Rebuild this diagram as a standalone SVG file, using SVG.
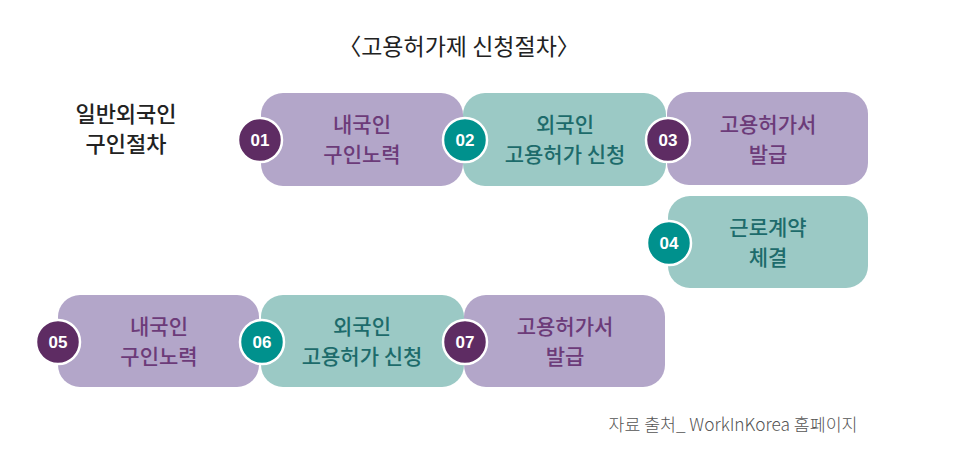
<svg xmlns="http://www.w3.org/2000/svg" width="966" height="459" viewBox="0 0 966 459">
<style>
text{font-family:"Noto Sans CJK KR","Noto Sans",sans-serif;text-anchor:middle}
.bp{fill:#b3a6c9}
.bt{fill:#9bc9c5}
.cp{fill:#5e2c63;stroke:#fff;stroke-width:2.5}
.ct{fill:#00918d;stroke:#fff;stroke-width:2.5}
.num{fill:#fff;font-family:"Liberation Sans",Arial,sans-serif;font-size:17px;font-weight:bold}
.lp{fill:#6c3b79;font-size:21px;font-weight:500}
.lt{fill:#1d6b6b;font-size:21px;font-weight:500}
.title{fill:#222;font-size:23px;font-weight:400}
.side{fill:#222;font-size:22px;font-weight:500}
.src{fill:#555;font-size:17.3px;font-weight:300}
</style>
<rect width="966" height="459" fill="#fff"/>
<text class="title" x="459" y="55">〈고용허가제 신청절차〉</text>
<g id="label-general">
<text class="side" x="126" y="122">일반외국인</text>
<text class="side" x="126" y="152">구인절차</text>
</g>
<g id="connectors"></g>
<g id="n01">
<rect class="bp" x="261" y="93" width="202" height="93" rx="22"/>
<circle class="cp" cx="260" cy="140" r="22"/>
<text class="num" x="260" y="146">01</text>
<text class="lp" x="362" y="132">내국인</text>
<text class="lp" x="362" y="162">구인노력</text>
</g>
<g id="n02">
<rect class="bt" x="463" y="93" width="203" height="93" rx="22"/>
<circle class="ct" cx="465" cy="140" r="22"/>
<text class="num" x="465" y="146">02</text>
<text class="lt" x="565" y="132">외국인</text>
<text class="lt" x="565" y="162">고용허가 신청</text>
</g>
<g id="n03">
<rect class="bp" x="667" y="92" width="201" height="93" rx="22"/>
<circle class="cp" cx="668" cy="140" r="22"/>
<text class="num" x="668" y="146">03</text>
<text class="lp" x="768" y="132">고용허가서</text>
<text class="lp" x="768" y="162">발급</text>
</g>
<g id="n04">
<rect class="bt" x="668" y="196" width="200" height="92" rx="22"/>
<circle class="ct" cx="669" cy="243" r="22"/>
<text class="num" x="669" y="249">04</text>
<text class="lt" x="768" y="235">근로계약</text>
<text class="lt" x="768" y="265">체결</text>
</g>
<g id="n05">
<rect class="bp" x="58" y="295" width="201" height="92" rx="22"/>
<circle class="cp" cx="58" cy="342" r="22"/>
<text class="num" x="58" y="348">05</text>
<text class="lp" x="159" y="334">내국인</text>
<text class="lp" x="159" y="364">구인노력</text>
</g>
<g id="n06">
<rect class="bt" x="261" y="295" width="203" height="92" rx="22"/>
<circle class="ct" cx="262" cy="342" r="22"/>
<text class="num" x="262" y="348">06</text>
<text class="lt" x="362" y="334">외국인</text>
<text class="lt" x="362" y="364">고용허가 신청</text>
</g>
<g id="n07">
<rect class="bp" x="464" y="295" width="201" height="92" rx="22"/>
<circle class="cp" cx="465" cy="342" r="22"/>
<text class="num" x="465" y="348">07</text>
<text class="lp" x="565" y="334">고용허가서</text>
<text class="lp" x="565" y="364">발급</text>
</g>
<text class="src" x="733" y="431">자료 출처_ WorkInKorea 홈페이지</text>
</svg>
